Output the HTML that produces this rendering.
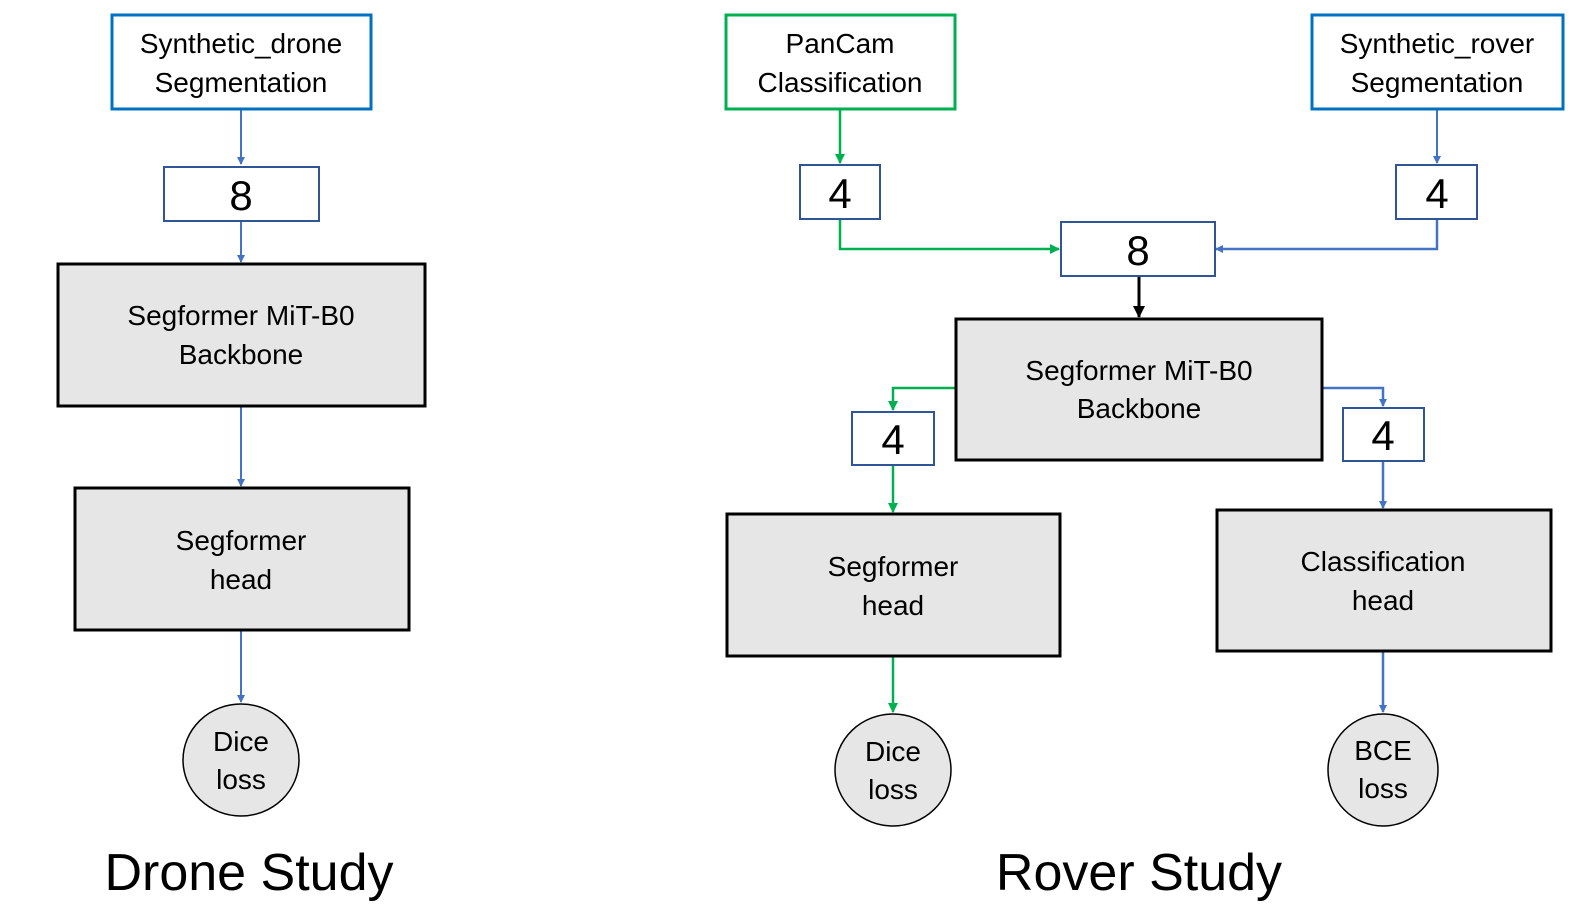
<!DOCTYPE html>
<html><head><style>html,body{margin:0;padding:0;background:#fff;overflow:hidden;width:1581px;height:920px}svg{display:block;position:absolute;left:0;top:0}text{font-family:"Liberation Sans",sans-serif;text-anchor:middle}</style></head><body>
<svg width="1581" height="920" viewBox="0 0 1581 920" xmlns="http://www.w3.org/2000/svg">
<defs>
<marker id="b" markerWidth="8" markerHeight="8" refX="7" refY="4" orient="auto" markerUnits="userSpaceOnUse"><path d="M0,0 L8,4 L0,8z" fill="#4472C4"/></marker>
<marker id="g" markerWidth="10" markerHeight="10" refX="9" refY="5" orient="auto" markerUnits="userSpaceOnUse"><path d="M0,0 L10,5 L0,10z" fill="#00B050"/></marker>
<marker id="k" markerWidth="12" markerHeight="12" refX="11" refY="6" orient="auto" markerUnits="userSpaceOnUse"><path d="M0,0 L12,6 L0,12z" fill="#000"/></marker>
</defs>
<g fill="none" stroke-width="2">
<path d="M241,110 V164" stroke="#4472C4" marker-end="url(#b)"/>
<path d="M241,222 V262" stroke="#4472C4" marker-end="url(#b)"/>
<path d="M241,407 V486" stroke="#4472C4" marker-end="url(#b)"/>
<path d="M241,631 V702" stroke="#4472C4" marker-end="url(#b)"/>
<path d="M840,110 V163" stroke="#00B050" stroke-width="2.5" marker-end="url(#g)"/>
<path d="M840,220 V249 H1059" stroke="#00B050" stroke-width="2.5" marker-end="url(#g)"/>
<path d="M1437,110 V163" stroke="#4472C4" marker-end="url(#b)"/>
<path d="M1437,220 V249 H1216" stroke="#4472C4" stroke-width="2.5" marker-end="url(#b)"/>
<path d="M1139,277 V317" stroke="#000" stroke-width="3" marker-end="url(#k)"/>
<path d="M955,388 H893 V410" stroke="#00B050" stroke-width="2.5" marker-end="url(#g)"/>
<path d="M1323,388 H1383 V406" stroke="#4472C4" stroke-width="2.5" marker-end="url(#b)"/>
<path d="M893,466 V512" stroke="#00B050" stroke-width="2.5" marker-end="url(#g)"/>
<path d="M1383,462 V508" stroke="#4472C4" stroke-width="2.5" marker-end="url(#b)"/>
<path d="M893,657 V712" stroke="#00B050" stroke-width="2.5" marker-end="url(#g)"/>
<path d="M1383,652 V712" stroke="#4472C4" stroke-width="2.5" marker-end="url(#b)"/>
</g>
<g stroke-width="3">
<rect x="112" y="15" width="259" height="94" fill="#fff" stroke="#0070C0"/>
<rect x="726" y="15" width="229" height="94" fill="#fff" stroke="#00B050"/>
<rect x="1312" y="15" width="251" height="94" fill="#fff" stroke="#0070C0"/>
</g>
<g stroke="#2F5597" stroke-width="2" fill="#fff">
<rect x="164" y="167" width="155" height="54"/>
<rect x="800" y="165" width="80" height="54"/>
<rect x="1396" y="165" width="81" height="54"/>
<rect x="1061" y="222" width="154" height="54"/>
<rect x="852" y="412" width="82" height="53"/>
<rect x="1343" y="408" width="81" height="53"/>
</g>
<g stroke="#000" stroke-width="3" fill="#E6E6E6">
<rect x="58" y="264" width="367" height="142"/>
<rect x="75" y="488" width="334" height="142"/>
<rect x="956" y="319" width="366" height="141"/>
<rect x="727" y="514" width="333" height="142"/>
<rect x="1217" y="510" width="334" height="141"/>
</g>
<g stroke="#000" stroke-width="1.5" fill="#E6E6E6">
<ellipse cx="241" cy="760" rx="58" ry="56"/>
<ellipse cx="893" cy="770" rx="58" ry="56"/>
<ellipse cx="1383" cy="770" rx="55" ry="56"/>
</g>
<g font-size="28" fill="#000">
<text x="241" y="53">Synthetic_drone</text><text x="241" y="92">Segmentation</text>
<text x="840" y="53">PanCam</text><text x="840" y="92">Classification</text>
<text x="1437" y="53">Synthetic_rover</text><text x="1437" y="92">Segmentation</text>
<text x="241" y="325">Segformer MiT-B0</text><text x="241" y="364">Backbone</text>
<text x="241" y="550">Segformer</text><text x="241" y="589">head</text>
<text x="1139" y="380">Segformer MiT-B0</text><text x="1139" y="418">Backbone</text>
<text x="893" y="576">Segformer</text><text x="893" y="615">head</text>
<text x="1383" y="571">Classification</text><text x="1383" y="610">head</text>
<text x="241" y="751">Dice</text><text x="241" y="789">loss</text>
<text x="893" y="761">Dice</text><text x="893" y="799">loss</text>
<text x="1383" y="760">BCE</text><text x="1383" y="798">loss</text>
</g>
<g font-size="42">
<text x="241" y="210">8</text><text x="840" y="208">4</text><text x="1437" y="208">4</text>
<text x="1138" y="265">8</text><text x="893" y="454">4</text><text x="1383" y="450">4</text>
</g>
<g font-size="52">
<text x="249" y="890">Drone Study</text><text x="1139" y="890">Rover Study</text>
</g>
</svg>
</body></html>
